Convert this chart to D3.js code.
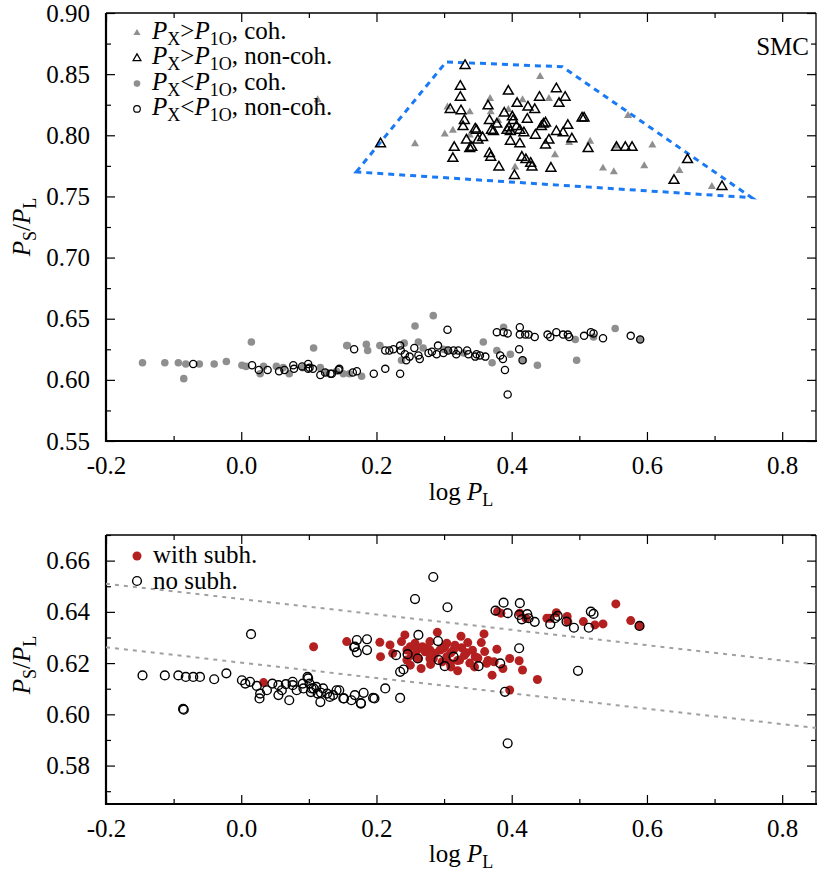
<!DOCTYPE html>
<html><head><meta charset="utf-8">
<script src="https://cdn.jsdelivr.net/npm/d3@7"></script>
<style>
body{margin:0;background:#fff}
svg{display:block}
text{font-family:"Liberation Serif","Times New Roman",Times,serif;fill:#000}
</style>
</head><body>
<svg id="c" width="830" height="872"></svg>
<script>
// ---------- DATA ----------
const xTickValues = [-0.2, 0.0, 0.2, 0.4, 0.6, 0.8];
const xTickLabels = ["-0.2", "0.0", "0.2", "0.4", "0.6", "0.8"];
const xMinorTicks = [-0.1, 0.1, 0.3, 0.5, 0.7];
const yTopTickValues = [0.55, 0.60, 0.65, 0.70, 0.75, 0.80, 0.85, 0.90];
const yTopTickLabels = ["0.55", "0.60", "0.65", "0.70", "0.75", "0.80", "0.85", "0.90"];
const yTopMinorTicks = [0.575, 0.625, 0.675, 0.725, 0.775, 0.825, 0.875];
const yBotTickValues = [0.58, 0.60, 0.62, 0.64, 0.66];
const yBotTickLabels = ["0.58", "0.60", "0.62", "0.64", "0.66"];
const yBotMinorTicks = [0.57, 0.59, 0.61, 0.63, 0.65, 0.67];

// top panel: P_X > P_1O, coherent (gray filled triangles)
const triCoh = [
 [0.113,0.829],[0.257,0.793],[0.442,0.848],[0.305,0.823],[0.338,0.819],[0.368,0.830],[0.369,0.819],
 [0.416,0.829],[0.455,0.830],[0.395,0.821],[0.301,0.801],[0.313,0.804],[0.380,0.812],[0.464,0.784],
 [0.485,0.794],[0.516,0.795],[0.405,0.774],[0.572,0.816],[0.535,0.773],[0.551,0.770],[0.596,0.775],
 [0.608,0.792],[0.648,0.771],[0.696,0.758],[0.554,0.791],[0.338,0.800]
];
// top panel: P_X > P_1O, non-coherent (open triangles)
const triNonCoh = [
 [0.206,0.793],[0.331,0.857],[0.324,0.840],[0.324,0.831],[0.309,0.821],[0.325,0.820],[0.330,0.812],
 [0.328,0.807],[0.346,0.805],[0.348,0.804],[0.333,0.796],[0.315,0.790],[0.313,0.781],[0.338,0.789],
 [0.341,0.790],[0.350,0.796],[0.357,0.798],[0.365,0.824],[0.367,0.812],[0.373,0.803],[0.378,0.809],
 [0.367,0.785],[0.369,0.782],[0.381,0.774],[0.389,0.818],[0.395,0.836],[0.398,0.795],[0.401,0.815],
 [0.402,0.812],[0.393,0.804],[0.398,0.803],[0.408,0.826],[0.407,0.807],[0.412,0.804],[0.418,0.802],
 [0.412,0.793],[0.404,0.767],[0.415,0.782],[0.423,0.813],[0.424,0.823],[0.434,0.821],[0.421,0.780],
 [0.428,0.777],[0.430,0.774],[0.435,0.800],[0.441,0.831],[0.444,0.807],[0.447,0.809],[0.450,0.810],
 [0.450,0.792],[0.455,0.796],[0.458,0.773],[0.466,0.838],[0.470,0.826],[0.479,0.831],[0.466,0.803],
 [0.476,0.802],[0.483,0.808],[0.489,0.797],[0.504,0.814],[0.507,0.814],[0.513,0.789],[0.555,0.790],
 [0.568,0.790],[0.578,0.790],[0.660,0.780],[0.640,0.763],[0.711,0.758],[0.370,0.804],[0.396,0.806]
];
// top panel: P_X < P_1O, coherent (gray filled circles)
const circCoh = [
 [-0.146,0.614],[-0.113,0.614],[-0.093,0.614],[-0.082,0.613],[-0.085,0.601],[-0.062,0.613],[-0.040,0.613],
 [-0.022,0.615],[0.015,0.631],[0.001,0.612],[0.007,0.611],[0.028,0.605],[0.033,0.611],[0.052,0.611],
 [0.071,0.605],[0.062,0.610],[0.107,0.626],[0.117,0.610],[0.141,0.607],[0.156,0.628],[0.160,0.605],
 [0.091,0.610],[0.126,0.606],[0.284,0.6525],[0.257,0.644],[0.157,0.628],[0.185,0.629],[0.187,0.624],
 [0.205,0.628],[0.241,0.630],[0.262,0.631],[0.237,0.616],[0.178,0.603],[0.151,0.605],[0.358,0.631],
 [0.371,0.614],[0.378,0.624],[0.388,0.643],[0.398,0.621],[0.417,0.616],[0.438,0.612],[0.496,0.616],
 [0.494,0.633],[0.553,0.642],[0.590,0.633],[0.521,0.635],[0.299,0.625],[0.269,0.626],[0.304,0.624],
 [0.329,0.622]
];
// top panel: P_X < P_1O, non-coherent (open circles)
const circNonCoh = [
 [-0.071,0.613],[0.016,0.612],[0.026,0.608],[0.039,0.608],[0.056,0.607],[0.064,0.608],[0.077,0.612],
 [0.078,0.609],[0.090,0.611],[0.099,0.613],[0.101,0.610],[0.099,0.609],[0.106,0.609],[0.117,0.604],
 [0.124,0.606],[0.132,0.605],[0.144,0.608],[0.305,0.641],[0.167,0.625],[0.213,0.624],[0.219,0.624],
 [0.225,0.625],[0.235,0.628],[0.236,0.624],[0.242,0.621],[0.244,0.616],[0.249,0.619],[0.256,0.626],
 [0.262,0.620],[0.264,0.617],[0.277,0.622],[0.282,0.623],[0.291,0.628],[0.289,0.621],[0.299,0.622],
 [0.306,0.624],[0.314,0.624],[0.318,0.621],[0.321,0.624],[0.334,0.624],[0.336,0.621],[0.348,0.621],
 [0.353,0.620],[0.361,0.619],[0.346,0.619],[0.378,0.639],[0.388,0.639],[0.394,0.638],[0.412,0.643],
 [0.412,0.637],[0.420,0.637],[0.425,0.637],[0.434,0.635],[0.383,0.620],[0.387,0.617],[0.411,0.625],
 [0.416,0.616],[0.390,0.608],[0.394,0.588],[0.453,0.637],[0.457,0.635],[0.466,0.639],[0.476,0.637],
 [0.483,0.637],[0.485,0.635],[0.507,0.636],[0.517,0.639],[0.521,0.638],[0.535,0.634],[0.576,0.636],
 [0.590,0.633],[0.134,0.605],[0.145,0.609],[0.165,0.606],[0.171,0.607],[0.196,0.605],[0.213,0.609],
 [0.235,0.605]
];
// region boundary (blue dashed polygon)
const regionPoly = [[0.170,0.770],[0.303,0.860],[0.475,0.856],[0.755,0.749]];

// bottom panel: with subharmonics (red)
const withSubh = [
 [0.033,0.6124],[0.107,0.6264],[0.156,0.6284],
 [0.205,0.6281],[0.206,0.6225],[0.220,0.6271],[0.224,0.6238],[0.237,0.6284],[0.242,0.6310],[0.245,0.6251],
 [0.250,0.6264],[0.257,0.6277],[0.252,0.6231],[0.260,0.6251],[0.268,0.6264],[0.272,0.6244],[0.279,0.6251],
 [0.266,0.6179],[0.250,0.6192],[0.279,0.6218],[0.287,0.6238],[0.294,0.6251],[0.301,0.6264],[0.304,0.6225],
 [0.297,0.6205],[0.262,0.6218],[0.245,0.6212],[0.279,0.6284],[0.304,0.6277],[0.274,0.6258],[0.284,0.6218],
 [0.299,0.6258],[0.309,0.6199],[0.314,0.6251],[0.323,0.6212],[0.333,0.6240],[0.346,0.6225],[0.363,0.6199],
 [0.374,0.6205],[0.387,0.6179],[0.397,0.6218],[0.411,0.6209],[0.416,0.6173],[0.378,0.6254],[0.359,0.6314],
 [0.371,0.6153],[0.438,0.6136],[0.397,0.6095],
 [0.310,0.6240],[0.316,0.6270],[0.320,0.6210],[0.326,0.6260],[0.330,0.6230],[0.335,0.6280],[0.338,0.6200],
 [0.342,0.6250],[0.350,0.6220],[0.355,0.6280],[0.360,0.6245],[0.365,0.6210],[0.325,0.6305],[0.290,0.6320],
 [0.310,0.6185],[0.280,0.6195],[0.320,0.6170],[0.345,0.6185],
 [0.379,0.6401],[0.384,0.6395],[0.412,0.6395],[0.421,0.6375],[0.452,0.6375],[0.457,0.6375],[0.466,0.6397],
 [0.482,0.6382],[0.483,0.6362],[0.506,0.6362],[0.523,0.6349],[0.535,0.6353],[0.554,0.6431],[0.576,0.6366],
 [0.589,0.6345]
];
// bottom panel: no subharmonics (open circles)
const noSubh = [
 [-0.146,0.6152],[-0.113,0.6152],[-0.093,0.6152],[-0.082,0.6146],[-0.071,0.6146],[-0.061,0.6146],
 [-0.040,0.6137],[-0.022,0.6160],[-0.085,0.6018],[-0.086,0.6021],[0.0145,0.6313],
 [0.001,0.6133],[0.006,0.6120],[0.013,0.6127],[0.023,0.6111],[0.028,0.6081],[0.027,0.6062],[0.038,0.6094],
 [0.046,0.6120],[0.055,0.6114],[0.060,0.6094],[0.055,0.6075],[0.071,0.6055],[0.066,0.6118],[0.076,0.6114],
 [0.082,0.6094],[0.092,0.6101],[0.099,0.6140],[0.101,0.6120],[0.104,0.6101],[0.111,0.6107],[0.118,0.6084],
 [0.117,0.6048],[0.127,0.6081],[0.136,0.6075],[0.145,0.6094],[0.151,0.6062],[0.163,0.6055],[0.168,0.6075],
 [0.177,0.6044],[0.181,0.6084],[0.076,0.6127],[0.091,0.6120],[0.098,0.6146],[0.103,0.6087],[0.107,0.6101],
 [0.113,0.6081],[0.121,0.6101],[0.131,0.6068],[0.141,0.6094],[0.152,0.6062],[0.197,0.6062],[0.213,0.6101],
 [0.195,0.6064],[0.235,0.6064],[0.177,0.6042],
 [0.171,0.6290],[0.168,0.6264],[0.171,0.6242],[0.186,0.6293],[0.186,0.6251],[0.167,0.6262],[0.229,0.6231],
 [0.246,0.6235],[0.261,0.6218],[0.235,0.6166],[0.240,0.6175],[0.262,0.6310],[0.291,0.6286],[0.292,0.6212],
 [0.301,0.6188],[0.314,0.6225],[0.284,0.6536],[0.257,0.6450],[0.305,0.6418],[0.351,0.6188],[0.383,0.6199],
 [0.411,0.6258],[0.390,0.6088],[0.394,0.5887],[0.498,0.6170],
 [0.376,0.6405],[0.388,0.6436],[0.394,0.6395],[0.412,0.6434],[0.411,0.6388],[0.415,0.6371],[0.423,0.6391],
 [0.425,0.6375],[0.434,0.6361],[0.457,0.6352],[0.464,0.6375],[0.468,0.6384],[0.481,0.6362],[0.492,0.6338],
 [0.514,0.6338],[0.517,0.6401],[0.521,0.6392],[0.589,0.6345]
];
// bottom panel: two dashed reference lines
const trendLines = [
 [[-0.2,0.6510],[0.85,0.6195]],
 [[-0.2,0.6262],[0.85,0.5947]]
];

// ---------- DRAWING ----------
const svg = d3.select("#c");
const FS = 25;
const SUB = 18;
const x = d3.scaleLinear().domain([-0.2, 0.85]).range([106, 816]);
const yTop = d3.scaleLinear().domain([0.55, 0.90]).range([441, 13]);
const yBot = d3.scaleLinear().domain([0.565, 0.670]).range([804, 535]);

function drawAxes(y, yMajor, yLabels, yMinor) {
  const [x0, x1] = x.range();
  const [yb, yt] = y.range();
  const g = svg.append("g");
  const styleAxis = sel => {
    sel.attr("font-family", null);
    sel.select(".domain").remove();
    sel.selectAll(".tick line").attr("stroke", "#000").attr("stroke-width", 1.2);
    sel.selectAll(".tick text").attr("font-size", FS).attr("font-family", '"Liberation Serif", "Times New Roman", serif').attr("fill", "#000");
  };
  g.append("g").attr("transform", `translate(0,${yb})`)
    .call(d3.axisBottom(x).tickValues(xTickValues).tickSize(-9).tickPadding(15).tickFormat((d, i) => xTickLabels[i]))
    .call(styleAxis);
  g.append("g").attr("transform", `translate(0,${yb})`)
    .call(d3.axisBottom(x).tickValues(xMinorTicks).tickSize(-5).tickFormat("")).call(styleAxis);
  g.append("g").attr("transform", `translate(0,${yt})`)
    .call(d3.axisTop(x).tickValues(xTickValues).tickSize(-9).tickFormat("")).call(styleAxis);
  g.append("g").attr("transform", `translate(0,${yt})`)
    .call(d3.axisTop(x).tickValues(xMinorTicks).tickSize(-5).tickFormat("")).call(styleAxis);
  g.append("g").attr("transform", `translate(${x0},0)`)
    .call(d3.axisLeft(y).tickValues(yMajor).tickSize(-9).tickPadding(16).tickFormat((d, i) => yLabels[i]))
    .call(styleAxis);
  g.append("g").attr("transform", `translate(${x0},0)`)
    .call(d3.axisLeft(y).tickValues(yMinor).tickSize(-5).tickFormat("")).call(styleAxis);
  g.append("g").attr("transform", `translate(${x1},0)`)
    .call(d3.axisRight(y).tickValues(yMajor).tickSize(-9).tickFormat("")).call(styleAxis);
  g.append("g").attr("transform", `translate(${x1},0)`)
    .call(d3.axisRight(y).tickValues(yMinor).tickSize(-5).tickFormat("")).call(styleAxis);
  // frame
  g.append("line").attr("x1", x0).attr("x2", x1).attr("y1", yt).attr("y2", yt).attr("stroke", "#000").attr("stroke-width", 1.3);
  g.append("line").attr("x1", x1).attr("x2", x1).attr("y1", yt).attr("y2", yb).attr("stroke", "#000").attr("stroke-width", 1.3);
  g.append("line").attr("x1", x0).attr("x2", x1 + 1).attr("y1", yb).attr("y2", yb).attr("stroke", "#000").attr("stroke-width", 2.2);
  g.append("line").attr("x1", x0).attr("x2", x0).attr("y1", yt).attr("y2", yb + 1).attr("stroke", "#000").attr("stroke-width", 2.2);
}

function xTitle(yBase) {
  const t = svg.append("text").attr("x", 461).attr("y", yBase).attr("text-anchor", "middle").attr("font-size", FS);
  t.append("tspan").text("log ");
  t.append("tspan").attr("font-style", "italic").text("P");
  t.append("tspan").attr("font-size", SUB).attr("dy", 6).text("L");
}
function yTitle(cx, cy) {
  const t = svg.append("text").attr("transform", `translate(${cx},${cy}) rotate(-90)`)
    .attr("text-anchor", "middle").attr("dy", "0.3em").attr("font-size", FS);
  t.append("tspan").attr("font-style", "italic").text("P");
  t.append("tspan").attr("font-size", SUB).attr("dy", 6).text("S");
  t.append("tspan").attr("dy", -6).text("/");
  t.append("tspan").attr("font-style", "italic").text("P");
  t.append("tspan").attr("font-size", SUB).attr("dy", 6).text("L");
}

const tri = a => d3.symbol(d3.symbolTriangle, a)();
const GRAY = "#8f8f8f";
const RED = "#b42020";

// ===== TOP PANEL =====
drawAxes(yTop, yTopTickValues, yTopTickLabels, yTopMinorTicks);

svg.append("path")
  .attr("d", d3.line().x(d => x(d[0])).y(d => yTop(d[1]))(regionPoly) + "Z")
  .attr("fill", "none").attr("stroke", "#1a7af5").attr("stroke-width", 3).attr("stroke-dasharray", "6,5");

const topG = svg.append("g");
topG.selectAll(".tc").data(triCoh).join("path")
  .attr("d", tri(28)).attr("transform", d => `translate(${x(d[0])},${yTop(d[1])})`)
  .attr("fill", GRAY);
topG.selectAll(".tn").data(triNonCoh).join("path")
  .attr("d", tri(42)).attr("transform", d => `translate(${x(d[0])},${yTop(d[1])})`)
  .attr("fill", "none").attr("stroke", "#000").attr("stroke-width", 1.5);
topG.selectAll(".cc").data(circCoh).join("circle")
  .attr("cx", d => x(d[0])).attr("cy", d => yTop(d[1])).attr("r", 3.8).attr("fill", GRAY);
topG.selectAll(".cn").data(circNonCoh).join("circle")
  .attr("cx", d => x(d[0])).attr("cy", d => yTop(d[1])).attr("r", 3.6)
  .attr("fill", "none").attr("stroke", "#000").attr("stroke-width", 1.3);

// legend top
const legTop = [
  {sym: "triF", rel: ">", tail: ", coh."},
  {sym: "triO", rel: ">", tail: ", non-coh."},
  {sym: "cirF", rel: "<", tail: ", coh."},
  {sym: "cirO", rel: "<", tail: ", non-coh."}
];
legTop.forEach((e, i) => {
  const cy = 33 + i * 25.3;
  if (e.sym === "triF") svg.append("path").attr("d", tri(22)).attr("transform", `translate(137,${cy})`).attr("fill", GRAY);
  if (e.sym === "triO") svg.append("path").attr("d", tri(26)).attr("transform", `translate(137,${cy})`).attr("fill", "none").attr("stroke", "#000").attr("stroke-width", 1.3);
  if (e.sym === "cirF") svg.append("circle").attr("cx", 137).attr("cy", cy).attr("r", 3.3).attr("fill", GRAY);
  if (e.sym === "cirO") svg.append("circle").attr("cx", 137).attr("cy", cy).attr("r", 3.3).attr("fill", "none").attr("stroke", "#000").attr("stroke-width", 1.2);
  const t = svg.append("text").attr("x", 152).attr("y", cy + 6).attr("font-size", FS);
  t.append("tspan").attr("font-style", "italic").text("P");
  t.append("tspan").attr("font-size", SUB).attr("dy", 6).text("X");
  t.append("tspan").attr("dy", -6).text(e.rel);
  t.append("tspan").attr("font-style", "italic").text("P");
  t.append("tspan").attr("font-size", SUB).attr("dy", 6).text("1O");
  t.append("tspan").attr("dy", -6).text(e.tail);
});
svg.append("text").attr("x", 809).attr("y", 55).attr("text-anchor", "end").attr("font-size", FS).text("SMC");

xTitle(500);
yTitle(22, 227);

// ===== BOTTOM PANEL =====
drawAxes(yBot, yBotTickValues, yBotTickLabels, yBotMinorTicks);

svg.append("g").selectAll("path").data(trendLines).join("path")
  .attr("d", d3.line().x(d => x(d[0])).y(d => yBot(d[1])))
  .attr("fill", "none").attr("stroke", "#a0a0a0").attr("stroke-width", 2).attr("stroke-dasharray", "4,5");

const botG = svg.append("g");
botG.selectAll(".r").data(withSubh).join("circle")
  .attr("cx", d => x(d[0])).attr("cy", d => yBot(d[1])).attr("r", 4.5).attr("fill", RED);
botG.selectAll(".o").data(noSubh).join("circle")
  .attr("cx", d => x(d[0])).attr("cy", d => yBot(d[1])).attr("r", 4.4)
  .attr("fill", "none").attr("stroke", "#000").attr("stroke-width", 1.4);

// legend bottom
svg.append("circle").attr("cx", 137).attr("cy", 556).attr("r", 4.5).attr("fill", RED);
svg.append("text").attr("x", 153).attr("y", 563).attr("font-size", FS).text("with subh.");
svg.append("circle").attr("cx", 137).attr("cy", 581).attr("r", 4.4).attr("fill", "none").attr("stroke", "#000").attr("stroke-width", 1.4);
svg.append("text").attr("x", 153).attr("y", 589).attr("font-size", FS).text("no subh.");

xTitle(862);
yTitle(22, 665);
</script>
</body></html>
